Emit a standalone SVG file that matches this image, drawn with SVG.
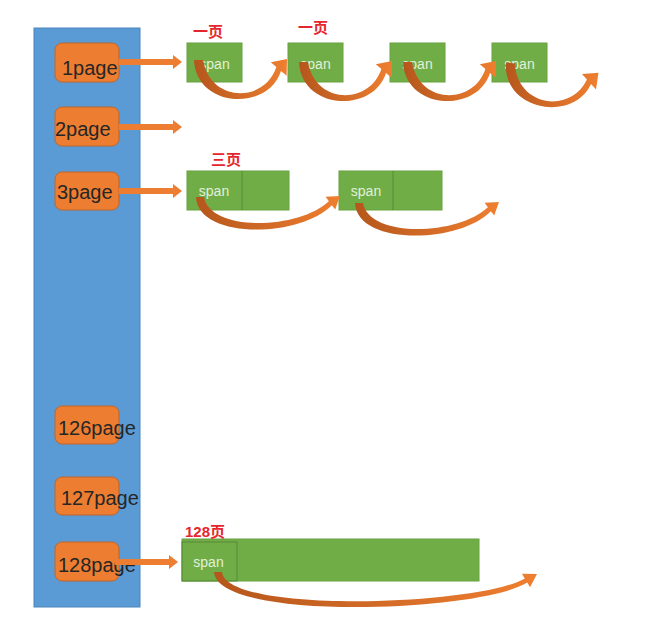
<svg xmlns="http://www.w3.org/2000/svg" width="665" height="635" viewBox="0 0 665 635">
<defs>
<style>
.col{fill:#5b9bd5;stroke:#4a84bb;stroke-width:1}
.pg{fill:#ed7d31;stroke:#c0652a;stroke-width:1}
.pt{font-family:"Liberation Sans",Arial,sans-serif;font-size:20px;fill:#262626}
.sp{fill:#70ad47;stroke:#66a23e;stroke-width:1}
.dv{fill:none;stroke:#578a36;stroke-width:1}
.st{font-family:"Liberation Sans",Arial,sans-serif;font-size:14px;fill:#e2f0d9;text-anchor:middle}
.lb{font-family:"Liberation Sans","Noto Sans CJK SC",sans-serif;font-size:15px;fill:#e6262d;font-weight:bold}
.ar{fill:#ed7d31}
.cv{fill:url(#g)}
</style>
<linearGradient id="g" x1="0" y1="0" x2="1" y2="0">
<stop offset="0" stop-color="#b5561c"/>
<stop offset="1" stop-color="#ef7f30"/>
</linearGradient>
<path id="c1" d="M -4 0 C -2 48, 70 52, 83 11 L 88.6 15.8 L 89 -1 L 72.8 2.2 L 78.4 7.1 C 66 44, 12 42, 5 0 Z"/>
</defs>
<rect class="col" x="34" y="28" width="106" height="579"/>
<g id="page1"><rect class="pg" x="55" y="43" width="64" height="39" rx="7"/><text class="pt" x="62" y="75">1page</text></g>
<g id="page2"><rect class="pg" x="55" y="107" width="64" height="39" rx="7"/><text class="pt" x="55" y="136">2page</text></g>
<g id="page3"><rect class="pg" x="55" y="172" width="64" height="38" rx="7"/><text class="pt" x="57" y="199">3page</text></g>
<g id="page126"><rect class="pg" x="55" y="406" width="64" height="38" rx="7"/><text class="pt" x="58" y="435">126page</text></g>
<g id="page127"><rect class="pg" x="55" y="477" width="64" height="38" rx="7"/><text class="pt" x="61" y="505">127page</text></g>
<g id="page128"><rect class="pg" x="55" y="542" width="64" height="39" rx="7"/><text class="pt" x="58" y="572">128page</text></g>

<g id="span1a"><rect class="sp" x="187" y="43" width="55" height="39"/><text class="st" x="214.5" y="69">span</text></g>
<g id="span1b"><rect class="sp" x="288" y="43" width="55" height="39"/><text class="st" x="315.5" y="69">span</text></g>
<g id="span1c"><rect class="sp" x="390" y="43" width="55" height="39"/><text class="st" x="417.5" y="69">span</text></g>
<g id="span1d"><rect class="sp" x="492" y="43" width="55" height="39"/><text class="st" x="519.5" y="69">span</text></g>
<g id="span3a"><rect class="sp" x="187" y="171" width="102" height="39"/><line class="dv" x1="242" y1="171" x2="242" y2="210"/><text class="st" x="214" y="196">span</text></g>
<g id="span3b"><rect class="sp" x="339" y="171" width="103" height="39"/><line class="dv" x1="393" y1="171" x2="393" y2="210"/><text class="st" x="366" y="196">span</text></g>
<g id="span128"><rect class="sp" x="182" y="539" width="297" height="42"/><rect class="dv" x="182" y="542" width="55" height="39"/><text class="st" x="208.5" y="567">span</text></g>

<g id="labels">
<text class="lb" x="193" y="37">一页</text>
<text class="lb" x="298" y="33">一页</text>
<text class="lb" x="211" y="165">三页</text>
<text class="lb" x="185" y="537">128页</text>
</g>

<g id="connectors">
<polygon class="ar" points="119,59 173,59 173,55 182,62 173,69 173,65 119,65"/>
<polygon class="ar" points="119,124 173,124 173,120 182,127 173,134 173,130 119,130"/>
<polygon class="ar" points="119,188 173,188 173,184 182,191 173,198 173,194 119,194"/>
<polygon class="ar" points="115,559 169,559 169,555 178,562 169,569 169,565 115,565"/>
<use class="cv" href="#c1" transform="translate(198,60)"/>
<use class="cv" href="#c1" transform="translate(303,62)"/>
<use class="cv" href="#c1" transform="translate(407,62)"/>
<use class="cv" href="#c1" transform="translate(510,63) rotate(7)"/>
<path class="cv" d="M 196 197 C 198 240, 300 238, 331.9 205.2 L 335.2 209.6 L 340 196 L 325.6 196.8 L 328.9 201.2 C 298 230, 210 232, 204 197 Z"/>
<path class="cv" transform="translate(159,6)" d="M 196 197 C 198 240, 300 238, 331.9 205.2 L 335.2 209.6 L 340 196 L 325.6 196.8 L 328.9 201.2 C 298 230, 210 232, 204 197 Z"/>
<path class="cv" d="M 214 572 C 218 622, 480 612, 527.3 582.6 L 530 587.3 L 537 574 L 522 573.7 L 524.8 578.4 C 478 606, 226 614, 222 572 Z"/>
</g>
</svg>
